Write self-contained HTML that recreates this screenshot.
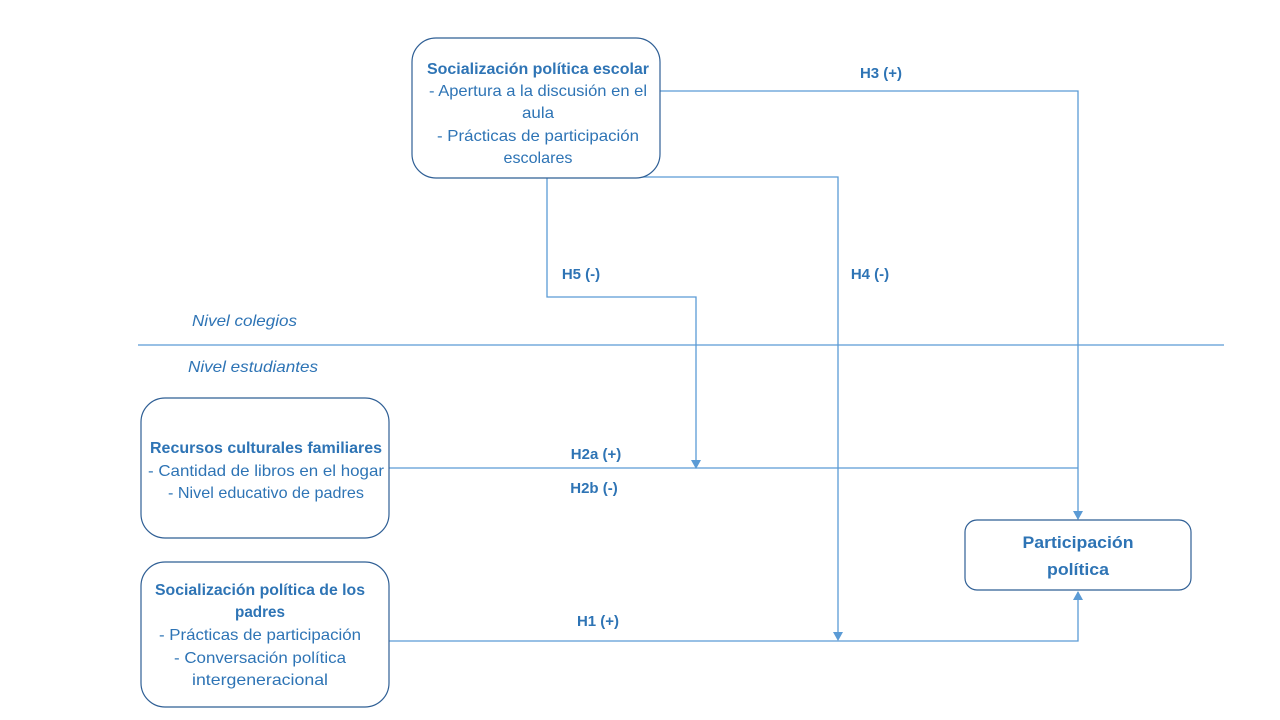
<!DOCTYPE html>
<html><head><meta charset="utf-8"><style>
html,body{margin:0;padding:0;background:#fff;}
svg{display:block;}
text{font-family:"Liberation Sans",sans-serif;fill:#2E74B5;font-size:16px;}
.b{font-weight:bold;}
.i{font-style:italic;}
.h{font-size:15px;font-weight:bold;}
</style></head><body>
<svg width="1280" height="720" viewBox="0 0 1280 720" xmlns="http://www.w3.org/2000/svg">
<g stroke="#5B9BD5" stroke-width="1.3" fill="none">
<line x1="138" y1="345" x2="1224" y2="345"/>
<polyline points="660,91 1078,91 1078,519"/>
<polyline points="640,177 838,177 838,639"/>
<polyline points="547,178 547,297 696,297 696,467"/>
<line x1="389" y1="468" x2="1078" y2="468"/>
<polyline points="389,641 1078,641 1078,592"/>
</g>
<g fill="#5B9BD5">
<path d="M1073,511 L1083,511 L1078,520 Z"/>
<path d="M833,632 L843,632 L838,641 Z"/>
<path d="M691,460 L701,460 L696,469 Z"/>
<path d="M1073,600 L1083,600 L1078,591 Z"/>
</g>
<g stroke="#2F5F95" stroke-width="1.2" fill="#fff">
<rect x="412" y="38" width="248" height="140" rx="24"/>
<rect x="141" y="398" width="248" height="140" rx="24"/>
<rect x="141" y="562" width="248" height="145" rx="24"/>
<rect x="965" y="520" width="226" height="70" rx="12"/>
</g>
<g text-anchor="middle">
<text x="538" y="74" class="b" textLength="222" lengthAdjust="spacingAndGlyphs">Socialización política escolar</text>
<text x="538" y="96" textLength="218" lengthAdjust="spacingAndGlyphs">- Apertura a la discusión en el</text>
<text x="538" y="118" textLength="32" lengthAdjust="spacingAndGlyphs">aula</text>
<text x="538" y="141" textLength="202" lengthAdjust="spacingAndGlyphs">- Prácticas de participación</text>
<text x="538" y="163" textLength="69" lengthAdjust="spacingAndGlyphs">escolares</text>

<text x="266" y="453" class="b" textLength="232" lengthAdjust="spacingAndGlyphs">Recursos culturales familiares</text>
<text x="266" y="476" textLength="236" lengthAdjust="spacingAndGlyphs">- Cantidad de libros en el hogar</text>
<text x="266" y="498" textLength="196" lengthAdjust="spacingAndGlyphs">- Nivel educativo de padres</text>

<text x="260" y="595" class="b" textLength="210" lengthAdjust="spacingAndGlyphs">Socialización política de los</text>
<text x="260" y="617" class="b" textLength="50" lengthAdjust="spacingAndGlyphs">padres</text>
<text x="260" y="640" textLength="202" lengthAdjust="spacingAndGlyphs">- Prácticas de participación</text>
<text x="260" y="663" textLength="172" lengthAdjust="spacingAndGlyphs">- Conversación política</text>
<text x="260" y="685" textLength="136" lengthAdjust="spacingAndGlyphs">intergeneracional</text>

<text x="1078" y="548" class="b" textLength="111" lengthAdjust="spacingAndGlyphs" style="font-size:17px">Participación</text>
<text x="1078" y="575" class="b" textLength="62" lengthAdjust="spacingAndGlyphs" style="font-size:17px">política</text>

<text x="881" y="78" class="h">H3 (+)</text>
<text x="870" y="279" class="h">H4 (-)</text>
<text x="581" y="279" class="h">H5 (-)</text>
<text x="596" y="459" class="h">H2a (+)</text>
<text x="594" y="493" class="h">H2b (-)</text>
<text x="598" y="626" class="h">H1 (+)</text>
</g>
<text x="192" y="326" class="i" textLength="105" lengthAdjust="spacingAndGlyphs">Nivel colegios</text>
<text x="188" y="372" class="i" textLength="130" lengthAdjust="spacingAndGlyphs">Nivel estudiantes</text>
</svg>
</body></html>
